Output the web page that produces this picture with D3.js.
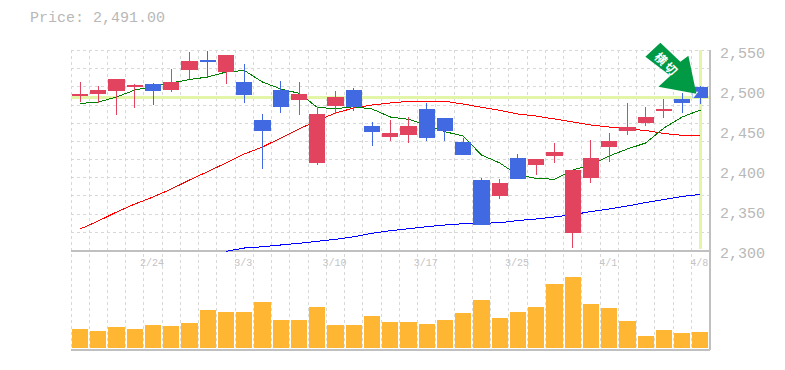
<!DOCTYPE html>
<html>
<head>
<meta charset="utf-8">
<script src="https://cdn.jsdelivr.net/npm/d3@7"></script>
<style>
  html, body { margin: 0; padding: 0; background: #fff; }
  svg { display: block; }
  text { font-family: "Liberation Mono", monospace; }
</style>
</head>
<body>
<svg id="chart" width="785" height="370"></svg>
<script>
const dates = ['2/18','2/19','2/20','2/21','2/24','2/25','2/26','2/27','2/28','3/3','3/4','3/5','3/6','3/7','3/10','3/11','3/12','3/13','3/14','3/17','3/18','3/19','3/21','3/24','3/25','3/26','3/27','3/28','3/31','4/1','4/2','4/3','4/4','4/7','4/8'];
const opens = [2493,2495.6,2499.4,2504.4,2508.1,2500.6,2525.6,2538.1,2523.1,2510.6,2463.1,2500.6,2488.1,2409.4,2480.6,2500.6,2455.6,2441.9,2444.4,2476.9,2465.6,2435.6,2388.1,2368.1,2415.6,2406.9,2418.1,2321.9,2390.6,2429.4,2449.4,2459.4,2474.4,2489.4,2504.4];
const closes = [2495.5,2500.6,2514.4,2506.9,2499.4,2510.6,2536.9,2535.6,2544.4,2494.4,2449.4,2479.4,2495.6,2470.6,2491.9,2479.4,2448.1,2446.9,2455.6,2440.6,2449.4,2419.4,2331.9,2384.4,2389.4,2414.4,2423.1,2400.6,2415.6,2436.9,2454.4,2466.9,2476.9,2484.4,2491];
const highs = [2510.6,2505.6,2514.4,2508.1,2509.4,2526.9,2548.1,2549.4,2544.4,2533.1,2470.6,2511.9,2510.6,2479.4,2499.4,2503.1,2460.6,2463.1,2466.9,2484.4,2465.6,2440.6,2390.6,2389.4,2420.6,2414.4,2434.4,2400.6,2438.1,2446.9,2484.4,2479.4,2489.4,2496.9,2505.6];
const lows = [2485.6,2484.7,2469.4,2478.1,2481.9,2498.1,2514,2516.9,2508.1,2484.4,2401.9,2471.9,2469.4,2406.9,2470.6,2474.4,2430.6,2436.9,2434.4,2436.9,2436.9,2419.4,2331.9,2364.4,2389.4,2394.4,2409.4,2303.1,2384.4,2410.6,2444.4,2455.6,2465.6,2471.9,2483.1];
const ma5 = [2483.7,2485.6,2491.9,2500.6,2505,2509.4,2513.7,2516.9,2523.1,2525,2510.6,2501.9,2496.5,2479,2477.2,2479.7,2476.9,2466.9,2464,2456.9,2448.5,2443.1,2419.4,2409.4,2394.4,2390.2,2389,2400.6,2406.9,2418.1,2426.9,2434.4,2453.1,2466.9,2475.6];
const ma25 = [2326.9,2336.9,2348.1,2358.1,2366.9,2376.9,2388.1,2398.7,2409.4,2420.6,2429.4,2440.6,2451.9,2462.2,2471.9,2478.1,2481.9,2484.4,2486.5,2486.5,2486.5,2483.1,2479,2475.2,2470.6,2468.1,2464.4,2460.6,2456.9,2454.4,2451.9,2450,2446.2,2444,2443.7];
const ma75 = [null,null,null,null,null,null,null,null,2299,2303.1,2304.7,2306.9,2309,2311.5,2314,2317.2,2321.5,2324.7,2327.2,2329.7,2331.9,2333.5,2334,2334.7,2337.5,2339.4,2341.9,2344.7,2348.7,2351.9,2355.6,2360,2363.7,2367.5,2370.2];
const volumes = [19,17,21,19,23,22,25,38,36,36,46,28,28,41,23,23,32,26,26,24,28,35,48,30,36,41,64,71,44,40,27,12,18,15,16];
const priceTicks = [2300,2350,2400,2450,2500,2550];
const dateTicks = ['2/24','3/3','3/10','3/17','3/25','4/1','4/8'];
const lastPrice = 2491;

const svg = d3.select('#chart');
const plotLeft = 71, plotRight = 709.5, plotTop = 50, priceBottom = 250.5, volTop = 268, volBottom = 348, axisBottom = 350;

const xScale = d3.scaleBand().domain(dates).range([plotLeft, plotRight]).paddingInner(0.11).paddingOuter(0.055);
const xMid = d => xScale(d) + xScale.bandwidth() / 2;
const yScale = d3.scaleLinear().domain([2300, 2550]).range([priceBottom, plotTop + 0.5]);
const volScale = d3.scaleLinear().domain([0, 80]).range([volBottom, volTop]);
const step = xScale.step();

// grid
const grid = svg.append('g').attr('stroke', '#d8d8d8').attr('stroke-dasharray', '3,3').attr('shape-rendering', 'crispEdges');
d3.range(0, 35).forEach(i => {
  grid.append('line')
    .attr('x1', plotLeft + i * step).attr('x2', plotLeft + i * step)
    .attr('y1', plotTop).attr('y2', axisBottom);
});
d3.range(0, 11).forEach(i => {
  let y = plotTop + 0.5 + i * (priceBottom - plotTop - 0.5) / 11;
  grid.append('line').attr('x1', plotLeft).attr('x2', plotRight).attr('y1', y).attr('y2', y);
});

// axes lines
const axes = svg.append('g').attr('stroke', '#c0c0c0').attr('stroke-width', 2).attr('shape-rendering', 'crispEdges');
axes.append('line').attr('x1', plotLeft).attr('x2', plotRight).attr('y1', priceBottom).attr('y2', priceBottom);
axes.append('line').attr('x1', plotLeft).attr('x2', plotRight).attr('y1', axisBottom).attr('y2', axisBottom);
axes.append('line').attr('x1', plotRight).attr('x2', plotRight).attr('y1', plotTop).attr('y2', axisBottom);

// current price and current date highlight
const hl = svg.append('g').attr('stroke', '#e3f5a6').attr('stroke-width', 3).attr('shape-rendering', 'crispEdges');
hl.append('line').attr('x1', plotLeft).attr('x2', plotRight - 1).attr('y1', yScale(lastPrice)).attr('y2', yScale(lastPrice));
hl.append('line').attr('x1', xMid('4/8')).attr('x2', xMid('4/8')).attr('y1', plotTop).attr('y2', priceBottom - 2);

// moving averages
const drawLine = (values, color) => {
  let line = d3.line()
    .defined(d => d !== null)
    .x((d, i) => xMid(dates[i]))
    .y(d => yScale(d));
  svg.append('path')
    .attr('d', line(values))
    .attr('fill', 'none')
    .attr('stroke', color)
    .attr('stroke-width', 1)
    .attr('shape-rendering', 'crispEdges');
};
drawLine(ma75, '#0000ff');
drawLine(ma25, '#ff0000');
drawLine(ma5, '#008000');

// candles
const candleColor = i => closes[i] >= opens[i] ? '#e2435f' : '#4169e1';
const candles = svg.append('g').attr('shape-rendering', 'crispEdges');
candles.selectAll('line')
  .data(dates)
  .enter()
  .append('line')
    .attr('x1', d => xMid(d))
    .attr('x2', d => xMid(d))
    .attr('y1', (d, i) => yScale(highs[i]))
    .attr('y2', (d, i) => yScale(lows[i]))
    .attr('stroke', (d, i) => candleColor(i));
candles.selectAll('rect')
  .data(dates)
  .enter()
  .append('rect')
    .attr('x', d => xScale(d))
    .attr('width', xScale.bandwidth())
    .attr('y', (d, i) => yScale(Math.max(opens[i], closes[i])))
    .attr('height', (d, i) => Math.abs(yScale(opens[i]) - yScale(closes[i])))
    .attr('fill', (d, i) => candleColor(i));

// volume
svg.append('g')
  .attr('shape-rendering', 'crispEdges')
  .selectAll('rect')
  .data(volumes)
  .enter()
  .append('rect')
    .attr('x', (d, i) => xScale(dates[i]))
    .attr('width', xScale.bandwidth())
    .attr('y', d => volScale(d))
    .attr('height', d => volBottom - volScale(d))
    .attr('fill', '#ffb733');

// labels
svg.append('text')
  .attr('x', 30).attr('y', 22)
  .attr('font-size', 15).attr('fill', '#b8b8b8')
  .text('Price: 2,491.00');

svg.selectAll('.price-label')
  .data(priceTicks)
  .enter()
  .append('text')
    .classed('price-label', true)
    .attr('x', 720)
    .attr('y', d => yScale(d) + 7)
    .attr('font-size', 15)
    .attr('fill', '#b8b8b8')
    .text(d3.format(','));

svg.selectAll('.date-label')
  .data(dateTicks)
  .enter()
  .append('text')
    .classed('date-label', true)
    .attr('x', d => xMid(d) - 1)
    .attr('y', 266)
    .attr('font-size', 10)
    .attr('fill', '#c4c4c4')
    .style('text-anchor', 'middle')
    .text(d => d);

// arrow annotation, anchored on the last candle
const arrow = svg.append('g')
  .attr('transform', `translate(${xMid('4/8')},${yScale(lastPrice) - 4})`);
arrow.append('polygon')
  .attr('points', '-8,-2 -2,-2 -8,5.5')
  .attr('fill', '#fff');
arrow.append('polygon')
  .attr('points', '-40,-51 -20,-32 -12,-38 -4,0 -42,-7 -30,-18 -55,-37')
  .attr('fill', '#009944');
arrow.append('text')
  .attr('transform', 'translate(-34,-29) rotate(45)')
  .attr('font-size', 12)
  .attr('font-weight', 'bold')
  .attr('letter-spacing', 2)
  .attr('fill', '#fff')
  .style('font-family', '"Noto Sans CJK JP"')
  .style('text-anchor', 'middle')
  .attr('dy', '0.35em')
  .text('横切');
</script>
</body>
</html>
